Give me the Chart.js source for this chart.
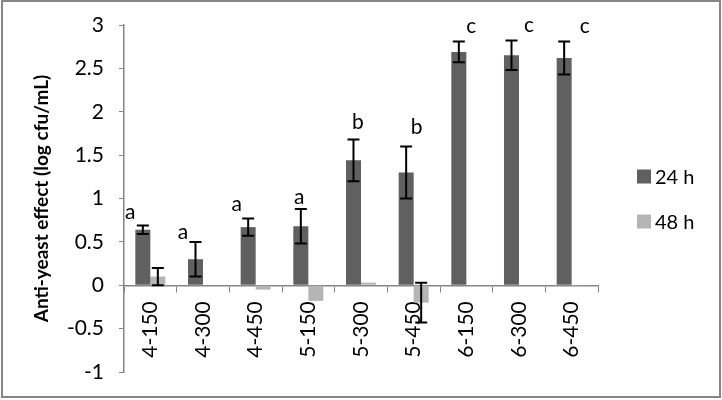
<!DOCTYPE html>
<html>
<head>
<meta charset="utf-8">
<script src="https://cdn.jsdelivr.net/npm/chart.js@4.4.1/dist/chart.umd.min.js"></script>
<style>
  html, body { margin: 0; padding: 0; background: #fff; }
  #wrap { width: 722px; height: 400px; }
</style>
</head>
<body>
<div id="wrap"><canvas id="yeastChart" width="722" height="400"></canvas></div>
<script>
// categories (pH - concentration)
var categories = ['4-150', '4-300', '4-450', '5-150', '5-300', '5-450', '6-150', '6-300', '6-450'];
// series values (log cfu/mL)
var values24h = [0.64, 0.30, 0.67, 0.68, 1.44, 1.30, 2.69, 2.65, 2.62];
var errors24h = [0.05, 0.20, 0.10, 0.20, 0.24, 0.30, 0.12, 0.17, 0.19];
var values48h = [0.10, 0, -0.05, -0.18, 0.03, -0.20, 0, 0, -0.01];
var errors48h = [0.10, 0, 0, 0, 0, 0.23, 0, 0, 0];
// significance letters on the 24 h bars
var letters = ['a', 'a', 'a', 'a', 'b', 'b', 'c', 'c', 'c'];
// y axis
var yMin = -1, yMax = 3, yStep = 0.5;

var FONT = 'Lato, "Open Sans", sans-serif';
var AXIS_GREY = '#868686';

// where each letter sits relative to its bar (px)
var letterDx = [-20, -20, -19, -9, -3, 3, 5, 10, 13];
var letterDy = [13, 10, 14, 12, 17, 19, 15, 15, 15];

var errorBars = {
    id: 'errorBars',
    afterDatasetsDraw: function(chart) {
        var ctx = chart.ctx;
        var y = chart.scales.y;
        var errs = [errors24h, errors48h];
        ctx.save();
        ctx.strokeStyle = '#000';
        ctx.lineWidth = 2;
        errs.forEach(function(err, di) {
            var meta = chart.getDatasetMeta(di);
            meta.data.forEach(function(bar, i) {
                if (!err[i]) return;
                var v = chart.data.datasets[di].data[i];
                var x = bar.x;
                var top = y.getPixelForValue(v + err[i]);
                var bot = y.getPixelForValue(v - err[i]);
                ctx.beginPath();
                ctx.moveTo(x, top); ctx.lineTo(x, bot);
                ctx.moveTo(x - 6, top); ctx.lineTo(x + 6, top);
                ctx.moveTo(x - 6, bot); ctx.lineTo(x + 6, bot);
                ctx.stroke();
            });
        });
        // letters
        ctx.fillStyle = '#000';
        ctx.font = '21px ' + FONT;
        ctx.textAlign = 'center';
        ctx.textBaseline = 'middle';
        letters.forEach(function(l, i) {
            var cx = chart.scales.x.getPixelForValue(i);
            var top = y.getPixelForValue(values24h[i] + errors24h[i]);
            ctx.fillText(l, cx + letterDx[i], top - letterDy[i]);
        });
        ctx.restore();
    }
};

var sideLegend = {
    id: 'sideLegend',
    afterDraw: function(chart) {
        var ctx = chart.ctx;
        var a = chart.chartArea;
        var mid = (a.top + a.bottom) / 2;
        ctx.save();
        ctx.font = '20px ' + FONT;
        ctx.textBaseline = 'middle';
        ctx.textAlign = 'left';
        chart.data.datasets.forEach(function(ds, i) {
            var cy = mid - 22 + i * 45;
            ctx.fillStyle = ds.backgroundColor;
            ctx.fillRect(637, cy - 7, 14, 14);
            ctx.fillStyle = '#000';
            ctx.fillText(ds.label, 655, cy + 1);
        });
        // outer frame
        ctx.strokeStyle = AXIS_GREY;
        ctx.lineWidth = 2;
        ctx.strokeRect(2, 1, 718, 396);
        ctx.restore();
    }
};

var ctx = document.getElementById('yeastChart').getContext('2d');
var yeastChart = new Chart(ctx, {
    type: 'bar',
    data: {
        labels: categories,
        datasets: [{
            label: '24 h',
            data: values24h,
            backgroundColor: '#606060',
            categoryPercentage: 0.57,
            barPercentage: 1
        }, {
            label: '48 h',
            data: values48h,
            backgroundColor: '#b5b5b5',
            categoryPercentage: 0.57,
            barPercentage: 1
        }]
    },
    options: {
        responsive: false,
        animation: false,
        layout: { padding: { left: 0, right: 124, top: 25, bottom: 28 } },
        plugins: {
            legend: { display: false },
            tooltip: { enabled: false }
        },
        scales: {
            x: {
                position: { y: 0 },
                grid: {
                    offset: true,
                    drawOnChartArea: false,
                    tickLength: 6,
                    color: AXIS_GREY
                },
                border: { color: AXIS_GREY, width: 1.5 },
                ticks: {
                    minRotation: 90,
                    maxRotation: 90,
                    padding: 10,
                    color: '#000',
                    font: { family: FONT, size: 21 }
                }
            },
            y: {
                min: yMin,
                max: yMax,
                afterFit: function(s) {
                    s.width = 124;
                    s.paddingTop = 0;
                    s.paddingBottom = 0;
                },
                grid: {
                    drawOnChartArea: false,
                    tickLength: 5,
                    color: AXIS_GREY
                },
                border: { color: AXIS_GREY, width: 1.5 },
                ticks: {
                    stepSize: yStep,
                    padding: 15,
                    color: '#000',
                    font: { family: FONT, size: 21 },
                    callback: function(v) { return String(Math.round(v * 10) / 10); }
                },
                title: {
                    display: true,
                    text: 'Anti-yeast effect (log cfu/mL)',
                    color: '#000',
                    font: { family: FONT, size: 19, weight: 'bold' },
                    padding: { top: 30, bottom: 0 }
                }
            }
        }
    },
    plugins: [errorBars, sideLegend]
});
</script>
</body>
</html>
